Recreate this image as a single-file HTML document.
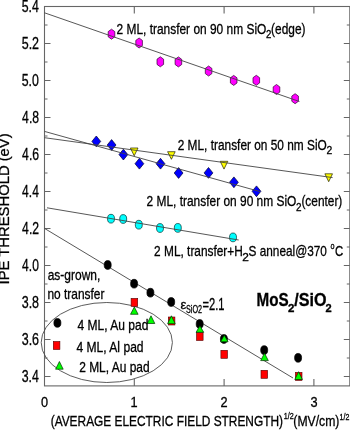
<!DOCTYPE html>
<html><head><meta charset="utf-8"><style>html,body{margin:0;padding:0;background:#fff;width:350px;height:430px;overflow:hidden}svg{display:block;filter:blur(0.3px)}</style></head>
<body>
<svg width="350" height="430" viewBox="0 0 350 430" font-family='"Liberation Sans", sans-serif'>
<style>text{fill:#000;stroke:#000;stroke-width:0.3px}</style>
<rect width="350" height="430" fill="#fff"/>
<rect x="44.5" y="6.5" width="305.3" height="379.4" fill="none" stroke="#666" stroke-width="1.1"/>
<path d="M44.5 6.5h6M349.8 6.5h-6M44.5 25.0h3M349.8 25.0h-3M44.5 43.5h6M349.8 43.5h-6M44.5 62.0h3M349.8 62.0h-3M44.5 80.5h6M349.8 80.5h-6M44.5 99.0h3M349.8 99.0h-3M44.5 117.5h6M349.8 117.5h-6M44.5 136.0h3M349.8 136.0h-3M44.5 154.5h6M349.8 154.5h-6M44.5 173.0h3M349.8 173.0h-3M44.5 191.5h6M349.8 191.5h-6M44.5 210.0h3M349.8 210.0h-3M44.5 228.5h6M349.8 228.5h-6M44.5 247.0h3M349.8 247.0h-3M44.5 265.5h6M349.8 265.5h-6M44.5 284.0h3M349.8 284.0h-3M44.5 302.5h6M349.8 302.5h-6M44.5 321.0h3M349.8 321.0h-3M44.5 339.5h6M349.8 339.5h-6M44.5 358.0h3M349.8 358.0h-3M44.5 376.5h6M349.8 376.5h-6M134.3 385.9v-7M134.3 6.5v7M224.1 385.9v-7M224.1 6.5v7M313.9 385.9v-7M313.9 6.5v7" stroke="#666" stroke-width="1.1" fill="none"/>
<ellipse cx="106.8" cy="342.5" rx="65.6" ry="40" fill="none" stroke="#4a4a4a" stroke-width="0.9"/>
<line x1="44.5" y1="228.4" x2="293.0" y2="378.0" stroke="#444" stroke-width="0.9"/>
<polygon points="111.50,29.20 114.80,31.60 114.80,36.80 111.50,39.20 108.20,36.80 108.20,31.60" fill="#ff00ff" stroke="#300030" stroke-width="0.7"/><polygon points="139.10,38.00 142.40,40.40 142.40,45.60 139.10,48.00 135.80,45.60 135.80,40.40" fill="#ff00ff" stroke="#300030" stroke-width="0.7"/><polygon points="160.30,56.80 163.60,59.20 163.60,64.40 160.30,66.80 157.00,64.40 157.00,59.20" fill="#ff00ff" stroke="#300030" stroke-width="0.7"/><polygon points="178.40,56.90 181.70,59.30 181.70,64.50 178.40,66.90 175.10,64.50 175.10,59.30" fill="#ff00ff" stroke="#300030" stroke-width="0.7"/><polygon points="208.60,66.00 211.90,68.40 211.90,73.60 208.60,76.00 205.30,73.60 205.30,68.40" fill="#ff00ff" stroke="#300030" stroke-width="0.7"/><polygon points="233.70,75.40 237.00,77.80 237.00,83.00 233.70,85.40 230.40,83.00 230.40,77.80" fill="#ff00ff" stroke="#300030" stroke-width="0.7"/><polygon points="256.30,75.30 259.60,77.70 259.60,82.90 256.30,85.30 253.00,82.90 253.00,77.70" fill="#ff00ff" stroke="#300030" stroke-width="0.7"/><polygon points="276.50,84.50 279.80,86.90 279.80,92.10 276.50,94.50 273.20,92.10 273.20,86.90" fill="#ff00ff" stroke="#300030" stroke-width="0.7"/><polygon points="295.10,93.70 298.40,96.10 298.40,101.30 295.10,103.70 291.80,101.30 291.80,96.10" fill="#ff00ff" stroke="#300030" stroke-width="0.7"/><polygon points="96.30,136.00 100.70,141.40 96.30,146.80 91.90,141.40" fill="#0000ff" stroke="#000030" stroke-width="0.7"/><polygon points="111.60,139.60 116.00,145.00 111.60,150.40 107.20,145.00" fill="#0000ff" stroke="#000030" stroke-width="0.7"/><polygon points="123.40,149.20 127.80,154.60 123.40,160.00 119.00,154.60" fill="#0000ff" stroke="#000030" stroke-width="0.7"/><polygon points="139.40,158.30 143.80,163.70 139.40,169.10 135.00,163.70" fill="#0000ff" stroke="#000030" stroke-width="0.7"/><polygon points="160.50,158.30 164.90,163.70 160.50,169.10 156.10,163.70" fill="#0000ff" stroke="#000030" stroke-width="0.7"/><polygon points="178.60,167.60 183.00,173.00 178.60,178.40 174.20,173.00" fill="#0000ff" stroke="#000030" stroke-width="0.7"/><polygon points="208.50,167.50 212.90,172.90 208.50,178.30 204.10,172.90" fill="#0000ff" stroke="#000030" stroke-width="0.7"/><polygon points="233.90,176.90 238.30,182.30 233.90,187.70 229.50,182.30" fill="#0000ff" stroke="#000030" stroke-width="0.7"/><polygon points="256.50,185.90 260.90,191.30 256.50,196.70 252.10,191.30" fill="#0000ff" stroke="#000030" stroke-width="0.7"/><polygon points="130.40,148.00 138.00,148.00 134.20,155.80" fill="#ffff00" stroke="#202000" stroke-width="0.7"/><polygon points="167.60,151.70 175.20,151.70 171.40,159.30" fill="#ffff00" stroke="#202000" stroke-width="0.7"/><polygon points="220.20,161.30 227.80,161.30 224.00,169.10" fill="#ffff00" stroke="#202000" stroke-width="0.7"/><polygon points="324.90,173.80 332.50,173.80 328.70,181.70" fill="#ffff00" stroke="#202000" stroke-width="0.7"/><ellipse cx="111" cy="218.7" rx="3.5" ry="4.4" fill="#00ffff" stroke="#003030" stroke-width="0.7"/><ellipse cx="123.2" cy="219" rx="3.5" ry="4.4" fill="#00ffff" stroke="#003030" stroke-width="0.7"/><ellipse cx="138.8" cy="224.7" rx="3.5" ry="4.4" fill="#00ffff" stroke="#003030" stroke-width="0.7"/><ellipse cx="160" cy="228" rx="3.5" ry="4.4" fill="#00ffff" stroke="#003030" stroke-width="0.7"/><ellipse cx="177.8" cy="227.9" rx="3.5" ry="4.4" fill="#00ffff" stroke="#003030" stroke-width="0.7"/><ellipse cx="233" cy="237.4" rx="3.5" ry="4.4" fill="#00ffff" stroke="#003030" stroke-width="0.7"/><ellipse cx="107.7" cy="265" rx="3.5" ry="4.4" fill="#000" stroke="#000" stroke-width="0.7"/><ellipse cx="134.1" cy="283.7" rx="3.5" ry="4.4" fill="#000" stroke="#000" stroke-width="0.7"/><ellipse cx="150.4" cy="292.7" rx="3.5" ry="4.4" fill="#000" stroke="#000" stroke-width="0.7"/><ellipse cx="171.2" cy="302" rx="3.5" ry="4.4" fill="#000" stroke="#000" stroke-width="0.7"/><ellipse cx="199.7" cy="324" rx="3.5" ry="4.4" fill="#000" stroke="#000" stroke-width="0.7"/><ellipse cx="223.9" cy="339" rx="3.5" ry="4.4" fill="#000" stroke="#000" stroke-width="0.7"/><ellipse cx="264.2" cy="350.1" rx="3.5" ry="4.4" fill="#000" stroke="#000" stroke-width="0.7"/><ellipse cx="298.1" cy="357.8" rx="3.5" ry="4.4" fill="#000" stroke="#000" stroke-width="0.7"/><rect x="131.10" y="298.40" width="6.6" height="8" fill="#ff0000" stroke="#500000" stroke-width="0.6"/><rect x="168.30" y="317.00" width="6.6" height="8" fill="#ff0000" stroke="#500000" stroke-width="0.6"/><rect x="196.50" y="332.50" width="6.6" height="8" fill="#ff0000" stroke="#500000" stroke-width="0.6"/><rect x="220.90" y="350.30" width="6.6" height="8" fill="#ff0000" stroke="#500000" stroke-width="0.6"/><rect x="261.00" y="370.30" width="6.6" height="8" fill="#ff0000" stroke="#500000" stroke-width="0.6"/><rect x="295.40" y="372.40" width="6.6" height="8" fill="#ff0000" stroke="#500000" stroke-width="0.6"/><polygon points="134.30,307.00 138.10,314.30 130.50,314.30" fill="#00ff00" stroke="#003000" stroke-width="0.7"/><polygon points="151.00,315.80 154.80,323.50 147.20,323.50" fill="#00ff00" stroke="#003000" stroke-width="0.7"/><polygon points="171.40,315.80 175.20,323.70 167.60,323.70" fill="#00ff00" stroke="#003000" stroke-width="0.7"/><polygon points="199.90,325.70 203.70,332.30 196.10,332.30" fill="#00ff00" stroke="#003000" stroke-width="0.7"/><polygon points="224.30,335.30 228.10,341.80 220.50,341.80" fill="#00ff00" stroke="#003000" stroke-width="0.7"/><polygon points="264.50,353.20 268.30,360.60 260.70,360.60" fill="#00ff00" stroke="#003000" stroke-width="0.7"/><polygon points="298.60,371.70 302.40,379.50 294.80,379.50" fill="#00ff00" stroke="#003000" stroke-width="0.7"/><ellipse cx="57.4" cy="322.9" rx="3.5" ry="4.4" fill="#000" stroke="#000" stroke-width="0.7"/><rect x="53.30" y="341.50" width="6.6" height="8" fill="#ff0000" stroke="#500000" stroke-width="0.6"/><polygon points="59.40,361.50 63.20,369.20 55.60,369.20" fill="#00ff00" stroke="#003000" stroke-width="0.7"/>
<line x1="44.5" y1="12.8" x2="299.4" y2="101.5" stroke="#444" stroke-width="0.9"/><line x1="44.5" y1="137.7" x2="332.6" y2="177.6" stroke="#444" stroke-width="0.9"/><line x1="44.5" y1="131.4" x2="260.0" y2="191.6" stroke="#444" stroke-width="0.9"/><line x1="47.0" y1="207.8" x2="238.7" y2="240.0" stroke="#444" stroke-width="0.9"/>
<text transform="translate(116.50,33.50) scale(0.7957,1)" font-size="15">2 ML, transfer on 90 nm SiO</text><text transform="translate(265.96,38.30) scale(0.8800,1)" font-size="11">2</text><text transform="translate(271.11,33.50) scale(0.7928,1)" font-size="15">(edge)</text><text transform="translate(177.71,149.60) scale(0.7925,1)" font-size="15">2 ML, transfer on 50 nm SiO</text><text transform="translate(326.53,154.40) scale(0.9400,1)" font-size="11">2</text><text transform="translate(146.50,206.40) scale(0.7963,1)" font-size="15">2 ML, transfer on 90 nm SiO</text><text transform="translate(295.95,211.20) scale(0.9000,1)" font-size="11">2</text><text transform="translate(301.41,206.40) scale(0.7920,1)" font-size="15">(center)</text><text transform="translate(154.11,256.40) scale(0.7918,1)" font-size="15">2 ML, transfer+H</text><text transform="translate(242.36,261.20) scale(1.0800,1)" font-size="11">2</text><text transform="translate(248.51,256.40) scale(0.7878,1)" font-size="15">S anneal@370</text><text transform="translate(330.50,249.40) scale(0.8000,1)" font-size="9">o</text><text transform="translate(334.93,256.40) scale(0.7579,1)" font-size="15">C</text><text transform="translate(47.69,279.80) scale(0.8275,1)" font-size="14.5">as-grown,</text><text transform="translate(47.48,298.60) scale(0.8221,1)" font-size="14.5">no transfer</text><text transform="translate(180.40,309.30) scale(1.0000,1)" font-size="13">ε</text><text transform="translate(186.06,313.40) scale(0.6876,1)" font-size="10.5">SiO2</text><text transform="translate(202.49,309.70) scale(0.6742,1)" font-size="16.5">=2.1</text><text transform="translate(256.51,306.00) scale(0.8686,1)" font-size="17.5" font-weight="bold">MoS</text><text transform="translate(287.98,312.00) scale(1.0476,1)" font-size="11" font-weight="bold">2</text><text transform="translate(294.27,306.00) scale(0.9206,1)" font-size="17.5" font-weight="bold">/SiO</text><text transform="translate(325.50,312.00) scale(1.0095,1)" font-size="11" font-weight="bold">2</text><text transform="translate(77.49,329.50) scale(0.8297,1)" font-size="14.5">4 ML, Au pad</text><text transform="translate(76.39,351.50) scale(0.8340,1)" font-size="14.5">4 ML, Al pad</text><text transform="translate(79.18,372.30) scale(0.8251,1)" font-size="14.5">2 ML, Au pad</text><text transform="translate(50.68,425.90) scale(0.8210,1)" font-size="14.5">(AVERAGE ELECTRIC FIELD STRENGTH)</text><text transform="translate(283.80,419.00) scale(0.8000,1)" font-size="9">1/2</text><text transform="translate(293.36,425.90) scale(0.8417,1)" font-size="14.5">(MV/cm)</text><text transform="translate(339.61,419.60) scale(0.7822,1)" font-size="9">1/2</text><text transform="translate(21.72,11.70) scale(0.7714,1)" font-size="16">5.4</text><text transform="translate(21.71,48.70) scale(0.7807,1)" font-size="16">5.2</text><text transform="translate(21.72,85.70) scale(0.7714,1)" font-size="16">5.0</text><text transform="translate(22.11,122.70) scale(0.7624,1)" font-size="16">4.8</text><text transform="translate(22.11,159.70) scale(0.7624,1)" font-size="16">4.6</text><text transform="translate(22.11,196.70) scale(0.7535,1)" font-size="16">4.4</text><text transform="translate(22.11,233.70) scale(0.7624,1)" font-size="16">4.2</text><text transform="translate(22.11,270.70) scale(0.7535,1)" font-size="16">4.0</text><text transform="translate(21.71,307.70) scale(0.7807,1)" font-size="16">3.8</text><text transform="translate(21.71,344.70) scale(0.7807,1)" font-size="16">3.6</text><text transform="translate(21.72,381.70) scale(0.7714,1)" font-size="16">3.4</text><text transform="translate(40.99,406.5) scale(0.85,1)" font-size="15">0</text><text transform="translate(130.58,406.5) scale(0.85,1)" font-size="15">1</text><text transform="translate(220.59,406.5) scale(0.85,1)" font-size="15">2</text><text transform="translate(310.39,406.5) scale(0.85,1)" font-size="15">3</text><text transform="translate(9.3,284.38) rotate(-90) scale(1.0216,1)" font-size="14.5">IPE THRESHOLD (eV)</text>
</svg>
</body></html>
